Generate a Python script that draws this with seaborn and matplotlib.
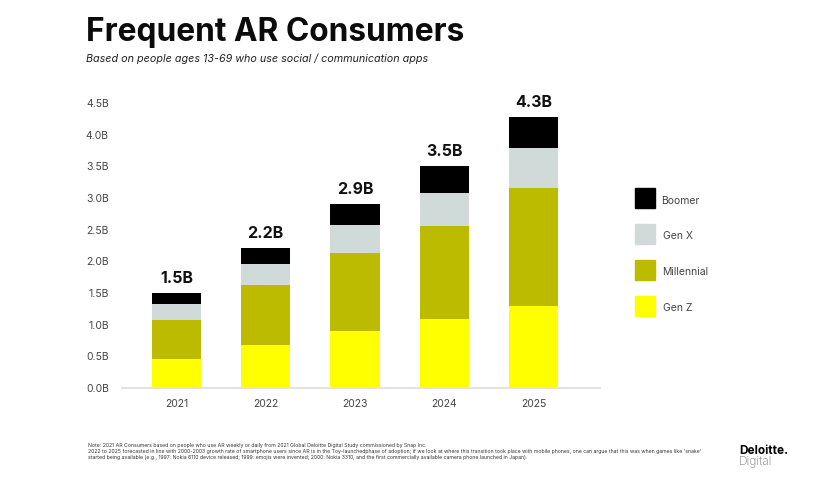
import numpy as np
import pandas as pd
import matplotlib
matplotlib.use("Agg")
import matplotlib.pyplot as plt
import seaborn as sns

# Values, in billions
years = ["2021", "2022", "2023", "2024", "2025"]
gen_z = [0.46, 0.68, 0.90, 1.09, 1.30]
millennial = [0.62, 0.95, 1.23, 1.47, 1.86]
gen_x = [0.25, 0.33, 0.45, 0.52, 0.63]
boomer = [0.17, 0.25, 0.33, 0.43, 0.49]
totals = ["1.5B", "2.2B", "2.9B", "3.5B", "4.3B"]
y_ticks = [0, 0.5, 1, 1.5, 2, 2.5, 3, 3.5, 4, 4.5]
y_labels = ["0.0B", "0.5B", "1.0B", "1.5B", "2.0B", "2.5B", "3.0B", "3.5B", "4.0B", "4.5B"]

series = ["Gen Z", "Millennial", "Gen X", "Boomer"]
colors = {"Gen Z": "#FFFF00", "Millennial": "#BDBB00", "Gen X": "#D0DAD8", "Boomer": "#000000"}

df = pd.DataFrame({"year": years, "Gen Z": gen_z, "Millennial": millennial,
                   "Gen X": gen_x, "Boomer": boomer})

sns.set_theme(style="white")
plt.rcParams["font.family"] = ["Inter", "DejaVu Sans"]

fig = plt.figure(figsize=(8.4, 4.8), dpi=100)
ax = fig.add_axes([122 / 840, 1 - 388 / 480, 478 / 840, 285 / 480])

# Stacked bars
bottom = np.zeros(len(years))
for name in series:
    sns.barplot(data=df, x="year", y=name, color=colors[name], width=0.55,
                bottom=bottom, saturation=1, linewidth=0, ax=ax)
    bottom = bottom + df[name].values

for i, label in enumerate(totals):
    ax.text(i, bottom[i] + 0.11, label, ha="center", va="bottom",
            fontsize=11.5, fontweight="bold", color="#111111")

ax.set_xlim(-0.61, 4.745)
ax.set_ylim(0, 4.5)
ax.set_yticks(y_ticks)
ax.set_yticklabels(y_labels)
ax.set_xlabel("")
ax.set_ylabel("")
ax.tick_params(axis="both", length=0, labelsize=7.5, labelcolor="#444444")
ax.tick_params(axis="x", pad=8)
ax.tick_params(axis="y", pad=9.5)
sns.despine(ax=ax, left=True)
ax.spines["bottom"].set_color("#DDDDDD")
ax.spines["bottom"].set_linewidth(1.2)
ax.spines["bottom"].set_zorder(0.5)

# Legend, top to bottom
handles = [plt.Rectangle((0, 0), 1, 1, color=colors[n]) for n in series[::-1]]
leg = fig.legend(handles, series[::-1], loc="upper left", bbox_to_anchor=(626 / 840, 1 - 179 / 480),
                 frameon=False, fontsize=7.5, labelcolor="#444444", handlelength=1.92, handleheight=2.58,
                 labelspacing=1.53, handletextpad=0.58, borderpad=0.4)
for t, dx in zip(leg.get_texts(), [0, 2, 0.5, 2]):
    t.set_x(dx)
    t.set_y(-2)

fig.text(86 / 840, 1 - 32 / 480, "Frequent AR Consumers", fontsize=22.8, fontweight="bold",
         va="center", ha="left", color="#0B0B0B")
fig.text(86 / 840, 1 - 59 / 480, "Based on people ages 13-69 who use social / communication apps",
         fontsize=7.75, style="italic", va="center", ha="left", color="#222222")

# Footnote
fig.text(88 / 840, 1 - 445.5 / 480,
         "Note: 2021 AR Consumers based on people who use AR weekly or daily from 2021 Global Deloitte Digital Study commissioned by Snap Inc.",
         fontsize=3.72, va="center", color="#333333")
fig.text(88 / 840, 1 - 451.5 / 480,
         "2022 to 2025 forecasted in line with 2000-2003 growth rate of smartphone users since AR is in the Toy-launchedphase of adoption; if we look at where this transition took place with mobile phones, one can argue that this was when games like 'snake'",
         fontsize=3.72, va="center", color="#333333")
fig.text(88 / 840, 1 - 457.5 / 480,
         "started being available (e.g., 1997: Nokia 6110 device released; 1999: emojis were invented; 2000: Nokia 3310, and the first commercially available camera phone launched in Japan).",
         fontsize=3.72, va="center", color="#333333")

# Logo text
fig.text(739 / 840, 1 - 451 / 480, "Deloitte.", fontsize=8.5, fontweight="bold", va="center", color="#000000")
fig.text(739 / 840, 1 - 461.5 / 480, "Digital", fontsize=8.5, fontweight="light", va="center", color="#777777")

fig.savefig("out.png", dpi=100)
